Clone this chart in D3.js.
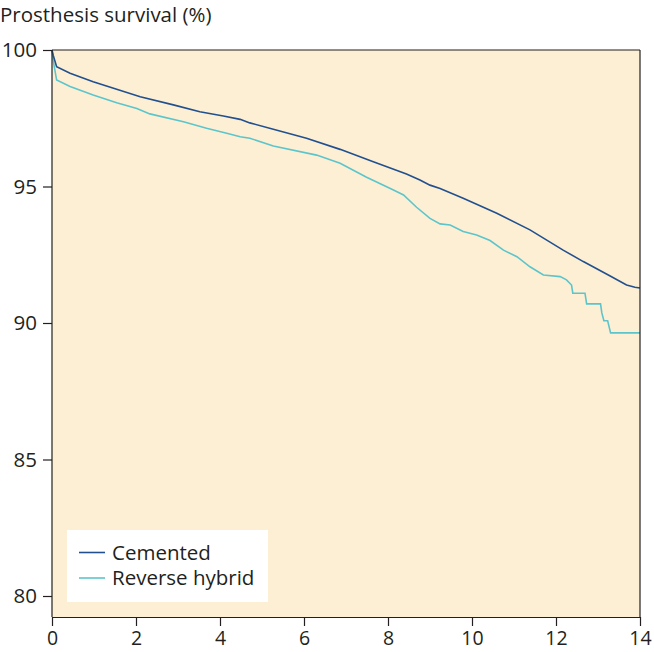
<!DOCTYPE html>
<html><head><meta charset="utf-8">
<script src="https://cdn.jsdelivr.net/npm/d3@7"></script>
<style>body{margin:0;background:#fff}text{font-family:"Open Sans",sans-serif;fill:#231f20}</style>
</head><body>
<svg id="c" width="654" height="652"></svg>
<script>
const cementedT = [0,0.03,0.11,0.43,0.98,1.54,2.10,2.89,3.52,4.08,4.48,4.71,5.27,6.06,6.86,7.65,8.44,8.76,9.0,9.24,9.79,10.59,11.38,12.17,12.65,13.29,13.68,13.88,14];
const cementedV = [100,99.8,99.39,99.15,98.84,98.56,98.29,97.99,97.74,97.58,97.46,97.33,97.10,96.77,96.36,95.91,95.46,95.24,95.05,94.93,94.57,94.02,93.41,92.67,92.25,91.72,91.39,91.31,91.28];
const hybridT = [0,0.03,0.11,0.43,0.98,1.54,2.02,2.33,3.13,3.68,4.16,4.48,4.71,5.27,6.30,6.86,7.49,8.13,8.37,8.68,9.0,9.24,9.48,9.79,10.11,10.43,10.75,11.07,11.38,11.70,12.10,12.25,12.37,12.40,12.69,12.73,13.06,13.09,13.14,13.23,13.30,14];
const hybridV = [100,99.6,98.90,98.66,98.35,98.07,97.86,97.66,97.37,97.13,96.95,96.82,96.77,96.48,96.15,95.85,95.34,94.87,94.69,94.24,93.83,93.63,93.59,93.35,93.22,93.02,92.67,92.43,92.06,91.76,91.70,91.58,91.39,91.09,91.09,90.70,90.70,90.38,90.08,90.08,89.64,89.64];
const seriesNames = ["Cemented","Reverse hybrid"];
const xTicks = [0,2,4,6,8,10,12,14];
const yTicks = [80,85,90,95,100];

const colors = ["#22508f","#5cc5cc"];
const FONT = "'Open Sans',sans-serif";
const FS = 20.5;
const svg = d3.select("#c");
const x = d3.scaleLinear().domain([0,14]).range([52,640]);
const y = d3.scaleLinear().domain([80,100]).range([596,50]);
const yBottom = 617;

svg.append("rect").attr("x",x(0)).attr("y",y(100)).attr("width",x(14)-x(0)).attr("height",yBottom-y(100)).attr("fill","#fdefd3");

const series = [cementedT.map((t,i)=>[t,cementedV[i]]), hybridT.map((t,i)=>[t,hybridV[i]])];
const line = d3.line().x(d=>x(d[0])).y(d=>y(d[1]));
[1,0].forEach(i=>{
  svg.append("path").attr("d",line(series[i])).attr("fill","none").attr("stroke",colors[i]).attr("stroke-width",1.6);
});

svg.append("line").attr("x1",x(0)).attr("x2",x(14)).attr("y1",y(100)).attr("y2",y(100)).attr("stroke","#231f20").attr("stroke-width",1.2);
svg.append("line").attr("x1",x(14)).attr("x2",x(14)).attr("y1",y(100)).attr("y2",yBottom).attr("stroke","#231f20").attr("stroke-width",1.2);

const yAxis = d3.axisLeft(y).tickValues(yTicks).tickSize(9).tickPadding(6).tickSizeOuter(0);
const gy = svg.append("g").attr("transform",`translate(${x(0)},0)`).call(yAxis);
gy.select(".domain").remove();
gy.append("line").attr("x1",0).attr("x2",0).attr("y1",y(100)).attr("y2",yBottom).attr("stroke","#231f20").attr("stroke-width",1.2);
gy.selectAll(".tick line").attr("stroke","#231f20").attr("stroke-width",1.2);
gy.selectAll(".tick text").attr("font-size",FS).style("font-family",FONT).attr("fill","#231f20");

const xAxis = d3.axisBottom(x).tickValues(xTicks).tickSize(9).tickPadding(5).tickSizeOuter(0);
const gx = svg.append("g").attr("transform",`translate(0,${yBottom})`).call(xAxis);
gx.select(".domain").attr("stroke","#231f20").attr("stroke-width",1.2);
gx.selectAll(".tick line").attr("stroke","#231f20").attr("stroke-width",1.2);
gx.selectAll(".tick text").attr("font-size",19.5).style("font-family",FONT).attr("fill","#231f20");

svg.append("text").attr("x",0).attr("y",22).attr("font-size",FS).text("Prosthesis survival (%)");

const lg = svg.append("g");
lg.append("rect").attr("x",67).attr("y",530).attr("width",201).attr("height",72).attr("fill","#fff");
seriesNames.forEach((n,i)=>{
  const yy = 552.5 + i*25.5;
  lg.append("line").attr("x1",79).attr("x2",105).attr("y1",yy).attr("y2",yy).attr("stroke",colors[i]).attr("stroke-width",1.6);
  lg.append("text").attr("x",112).attr("y",yy+7).attr("font-size",FS).text(n);
});
</script>
</body></html>
